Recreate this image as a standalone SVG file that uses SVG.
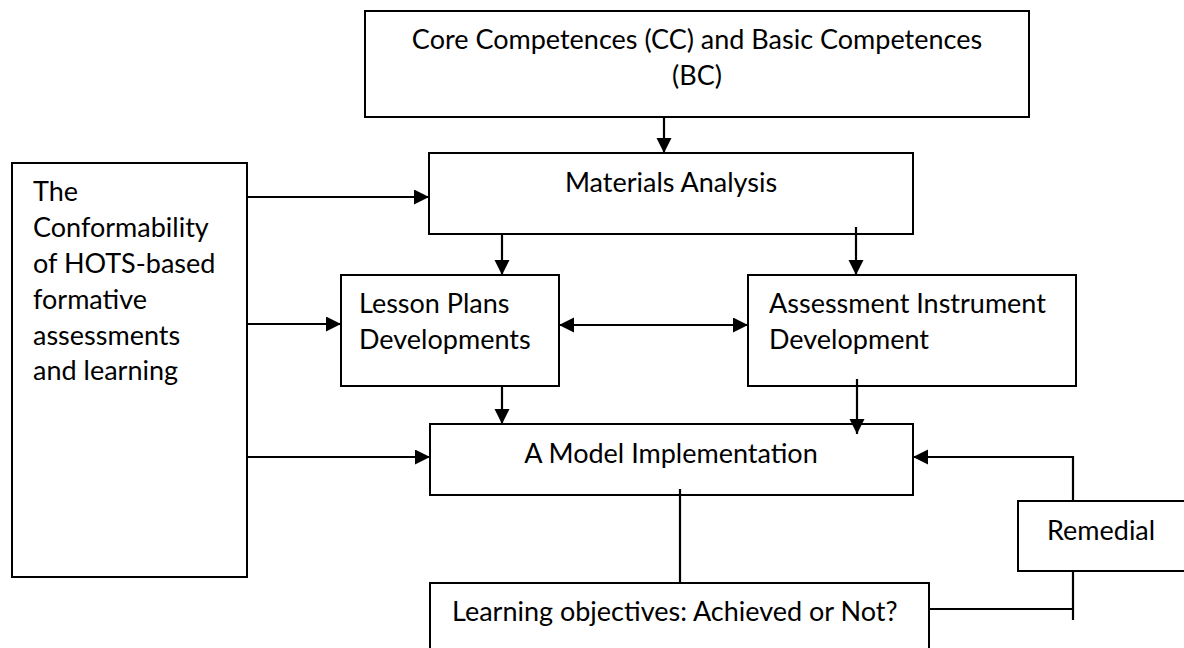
<svg xmlns="http://www.w3.org/2000/svg" width="1184" height="648" viewBox="0 0 1184 648">
<style>
.box{fill:#fff;stroke:#000;stroke-width:2}
.t{font-family:Lato,"Open Sans",sans-serif;font-size:27px;fill:#000}
.c{text-anchor:middle}
.ln{fill:none;stroke:#000;stroke-width:2.2}
.ar{marker-end:url(#ah)}
</style>
<defs>
<marker id="ah" markerUnits="userSpaceOnUse" markerWidth="16" markerHeight="16" refX="15" refY="7.5" orient="auto-start-reverse">
<path d="M0,0 L15,7.5 L0,15 z" fill="#000"/>
</marker>
</defs>
<rect width="1184" height="648" fill="#fff"/>
<g id="nodes">
<g id="cc"><rect class="box" x="365" y="11" width="664" height="106"/>
<text class="t c" x="697" y="49">Core Competences (CC) and Basic Competences</text>
<text class="t c" x="697" y="85">(BC)</text></g>
<g id="hots"><rect class="box" x="12" y="163" width="235" height="414"/>
<text class="t" x="33" y="201">The</text>
<text class="t" x="33" y="237">Conformability</text>
<text class="t" x="33" y="273">of HOTS-based</text>
<text class="t" x="33" y="309">formative</text>
<text class="t" x="33" y="345">assessments</text>
<text class="t" x="33" y="380">and learning</text></g>
<g id="materials"><rect class="box" x="429" y="153" width="484" height="81"/>
<text class="t c" x="671" y="192">Materials Analysis</text></g>
<g id="lesson"><rect class="box" x="341" y="275" width="218" height="111"/>
<text class="t" x="359" y="313">Lesson Plans</text>
<text class="t" x="359" y="349">Developments</text></g>
<g id="assessment"><rect class="box" x="748" y="275" width="328" height="111"/>
<text class="t" x="769" y="313">Assessment Instrument</text>
<text class="t" x="769" y="349">Development</text></g>
<g id="model"><rect class="box" x="430" y="424" width="483" height="71"/>
<text class="t c" x="671" y="463">A Model Implementation</text></g>
<g id="learning"><rect class="box" x="430" y="583" width="499" height="80"/>
<text class="t" x="452" y="621">Learning objectives: Achieved or Not?</text></g>
<g id="remedial"><rect class="box" x="1018" y="501" width="175" height="70"/>
<text class="t" x="1047" y="540">Remedial</text></g>
</g>
<g id="connectors">
<line class="ln ar" x1="664" y1="117" x2="664" y2="153"/>
<line class="ln ar" x1="247" y1="197" x2="429" y2="197"/>
<line class="ln ar" x1="247" y1="324" x2="341" y2="324"/>
<line class="ln ar" x1="247" y1="457" x2="430" y2="457"/>
<line class="ln ar" x1="502" y1="234" x2="502" y2="275"/>
<line class="ln ar" x1="856" y1="227" x2="856" y2="275"/>
<line class="ln ar" x1="559" y1="325" x2="748" y2="325" style="marker-start:url(#ah)"/>
<line class="ln ar" x1="502" y1="386" x2="502" y2="424"/>
<line class="ln ar" x1="857" y1="379" x2="857" y2="434"/>
<line class="ln" x1="680" y1="489" x2="680" y2="583"/>
<polyline class="ln" points="929,609 1073,609"/>
<line class="ln" x1="1073" y1="571" x2="1073" y2="620"/>
<polyline class="ln ar" points="1073,501 1073,457 913,457"/>
</g>
</svg>
